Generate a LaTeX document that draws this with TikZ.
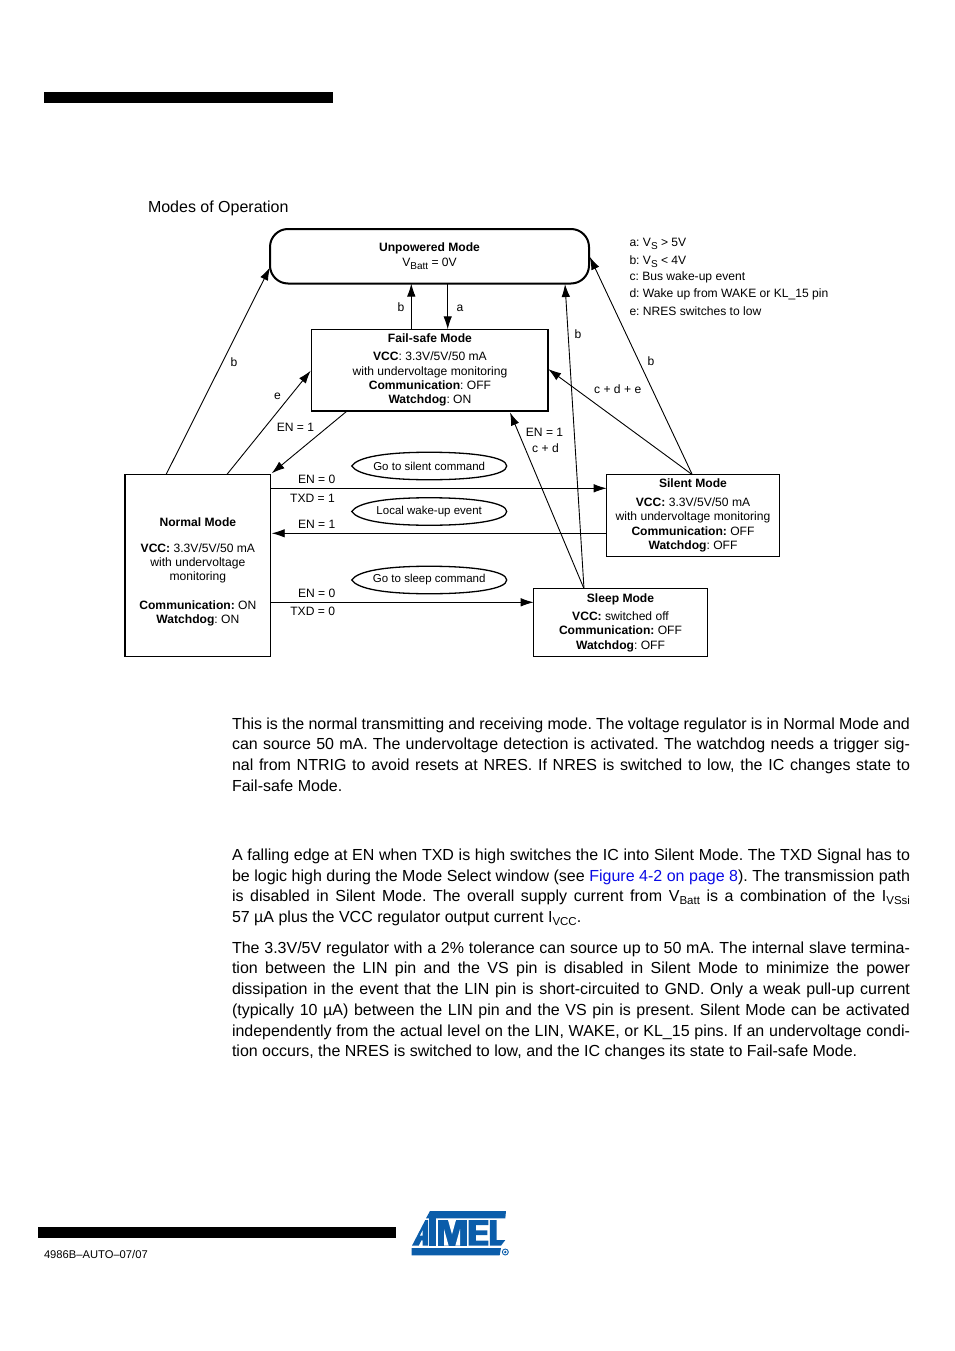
\documentclass[tikz,border=0pt]{standalone}
\usepackage{fontspec}
\setmainfont{Liberation Sans}
\usetikzlibrary{arrows.meta}
\frenchspacing
\definecolor{atmelblue}{HTML}{0B5DAA}
\definecolor{linkblue}{HTML}{0A0AE6}
\newcommand{\dsub}[1]{\raisebox{-3.2pt}{\fontsize{10}{10}\selectfont #1}}
\newcommand{\bsub}[1]{\raisebox{-3.2pt}{\fontsize{11.5}{11.5}\selectfont #1}}
\newcommand{\jline}[3]{\node[bodyline] (#1) at (232,#2) {\hbox to 678pt{#3}};}
\newcommand{\nline}[3]{\node[bodyline] (#1) at (232,#2) {#3};}
\newcommand{\lens}[1]{\draw[line width=1.3pt] (#1.west)
  .. controls ([xshift=6pt,yshift=9pt]#1.west) and ([xshift=-44pt]#1.north) .. (#1.north)
  .. controls ([xshift=44pt]#1.north) and ([xshift=0pt,yshift=9pt]#1.east) .. (#1.east)
  .. controls ([xshift=0pt,yshift=-9pt]#1.east) and ([xshift=44pt]#1.south) .. (#1.south)
  .. controls ([xshift=-44pt]#1.south) and ([xshift=6pt,yshift=-9pt]#1.west) .. (#1.west) -- cycle;}
\tikzset{
  every node/.style={inner sep=0pt,outer sep=0pt},
  dia/.style={font=\fontsize{12.1}{14.3}\selectfont},
  modebox/.style={dia,draw,line width=1.5pt,anchor=north west,align=center},
  wake/.style={font=\fontsize{11.5}{14}\selectfont,minimum width=155pt,minimum height=27.5pt},
  lab/.style={dia,anchor=base},
  legend/.style={dia,anchor=base west},
  bodyline/.style={font=\fontsize{16}{20}\selectfont,anchor=base west},
  conn/.style={line width=0.9pt,-{Latex[length=13pt,width=8.5pt]}}
}
\begin{document}
\begin{tikzpicture}[x=1pt,y=-1pt]
\useasboundingbox (0,0) rectangle (954,1351);
\fill[white] (0,0) rectangle (954,1351);
\fill[black] (44,92) rectangle (333,103);
\fill[black] (38,1227) rectangle (396,1238);
\node[font=\fontsize{16}{20}\selectfont,anchor=base west] (title) at (148,212.5) {Modes of Operation};

% mode boxes
\node[modebox,line width=2pt,rounded corners=18pt,minimum width=319pt,minimum height=54.5pt] (unpowered) at (270,229)
  {\textbf{Unpowered Mode}\\V\dsub{Batt} = 0V};
\node[modebox,minimum width=236.5pt,minimum height=81.5pt] (failsafe) at (311.7,329.3)
  {\textbf{Fail-safe Mode}\\[4.2pt]\textbf{VCC}: 3.3V/5V/50 mA\\with undervoltage monitoring\\\textbf{Communication}: OFF\\\textbf{Watchdog}: ON};
\node[modebox,minimum width=145.7pt,minimum height=181.6pt] (normal) at (125,474.7)
  {\mbox{}\\[7pt]\textbf{Normal Mode}\\\mbox{}\\[-2.6pt]\textbf{VCC:} 3.3V/5V/50 mA\\with undervoltage\\monitoring\\\mbox{}\\\textbf{Communication:} ON\\\textbf{Watchdog}: ON};
\node[modebox,minimum width=172.6pt,minimum height=81.6pt] (silent) at (606.7,474.7)
  {\textbf{Silent Mode}\\[4.2pt]\textbf{VCC:} 3.3V/5V/50 mA\\with undervoltage monitoring\\\textbf{Communication:} OFF\\\textbf{Watchdog}: OFF};
\node[modebox,minimum width=173.6pt,minimum height=67.6pt] (sleep) at (533.7,588.7)
  {\textbf{Sleep Mode}\\[4.2pt]\textbf{VCC:} switched off\\\textbf{Communication:} OFF\\\textbf{Watchdog}: OFF};

% events
\node[wake] (silentcmd) at (429.2,466) {Go to silent command};
\node[wake] (localwake) at (429.2,511.5) {Local wake-up event};
\node[wake] (sleepcmd) at (429.2,580) {Go to sleep command};
\lens{silentcmd}
\lens{localwake}
\lens{sleepcmd}

% connectors
\draw[conn] ([xshift=41pt]normal.north west) -- ([yshift=-38.3pt]unpowered.north west);
\draw[conn] ([xshift=101.7pt]normal.north west) -- ([yshift=-41.4pt,xshift=-1pt]failsafe.north west);
\draw[conn] ([xshift=35.6pt]failsafe.south west) -- ([xshift=1pt,yshift=1.4pt]normal.north east);
\draw[conn] ([xshift=99.6pt]failsafe.north west) -- ([xshift=141.3pt]unpowered.south west);
\draw[conn] ([xshift=177.7pt]unpowered.south west) -- ([xshift=136pt]failsafe.north west);
\draw[conn] ([xshift=50.3pt]sleep.north west) -- ([xshift=295pt,yshift=-0.5pt]unpowered.south west);
\draw[conn] ([xshift=50.3pt]sleep.north west) -- ([xshift=198.3pt,yshift=-1.6pt]failsafe.south west);
\draw[conn] ([xshift=85.6pt]silent.north west) -- ([yshift=-39.7pt]failsafe.north east);
\draw[conn] ([xshift=85.6pt]silent.north west) -- ([xshift=0.7pt,yshift=-27.7pt]unpowered.north east);
\draw[conn] ([yshift=-13.6pt]normal.north east) -- ([yshift=-13.6pt]silent.north west);
\draw[conn] ([yshift=-58.6pt]silent.north west) -- ([xshift=1pt,yshift=-58.6pt]normal.north east);
\draw[conn] ([yshift=-127.6pt]normal.north east) -- ([yshift=-13.6pt]sleep.north west);

% connector labels
\node[lab] (lb1) at (234,366.5) {b};
\node[lab] (le) at (277.5,399.5) {e};
\node[lab] (len1) at (295.5,431.5) {EN = 1};
\node[lab] (lb2) at (401,311.5) {b};
\node[lab] (la) at (460,311.5) {a};
\node[lab] (lb3) at (578,338.5) {b};
\node[lab] (lb4) at (651,365.5) {b};
\node[lab] (lcde) at (617.7,393) {c + d + e};
\node[lab] (len2) at (544.5,436.5) {EN = 1};
\node[lab] (lcd) at (545.5,452.5) {c + d};
\node[lab] (len3) at (316.7,483.5) {EN = 0};
\node[lab] (ltxd1) at (312.5,502.5) {TXD = 1};
\node[lab] (len4) at (316.7,528.5) {EN = 1};
\node[lab] (len5) at (316.7,597.5) {EN = 0};
\node[lab] (ltxd0) at (312.7,615.5) {TXD = 0};

% legend
\node[legend] (lega) at (629.5,246) {a: V\dsub{S} > 5V};
\node[legend] (legb) at (629.5,264) {b: V\dsub{S} < 4V};
\node[legend] (legc) at (629.5,280) {c: Bus wake-up event};
\node[legend] (legd) at (629.5,297.5) {d: Wake up from WAKE or KL\_15 pin};
\node[legend] (lege) at (629.5,315) {e: NRES switches to low};

% body text
\jline{p1a}{729}{This is the normal transmitting and receiving mode. The voltage regulator is in Normal Mode and}
\jline{p1b}{749.7}{can source 50 mA. The undervoltage detection is activated. The watchdog needs a trigger sig-}
\jline{p1c}{770.5}{nal from NTRIG to avoid resets at NRES. If NRES is switched to low, the IC changes state to}
\nline{p1d}{791}{Fail-safe Mode.}
\jline{p2a}{860}{A falling edge at EN when TXD is high switches the IC into Silent Mode. The TXD Signal has to}
\jline{p2b}{881}{be logic high during the Mode Select window (see {\color{linkblue}Figure 4-2 on page 8}). The transmission path}
\jline{p2c}{901.7}{is disabled in Silent Mode. The overall supply current from V\bsub{Batt} is a combination of the I\bsub{VSsi}}
\nline{p2d}{922.5}{57 µA plus the VCC regulator output current I\bsub{VCC}.}
\jline{p3a}{953}{The 3.3V/5V regulator with a 2\% tolerance can source up to 50 mA. The internal slave termina-}
\jline{p3b}{973.8}{tion between the LIN pin and the VS pin is disabled in Silent Mode to minimize the power}
\jline{p3c}{994.5}{dissipation in the event that the LIN pin is short-circuited to GND. Only a weak pull-up current}
\jline{p3d}{1015.2}{(typically 10 µA) between the LIN pin and the VS pin is present. Silent Mode can be activated}
\jline{p3e}{1036}{independently from the actual level on the LIN, WAKE, or KL\_15 pins. If an undervoltage condi-}
\nline{p3f}{1056.5}{tion occurs, the NRES is switched to low, and the IC changes its state to Fail-safe Mode.}

% footer
\node[anchor=base west,font=\fontsize{11.2}{13}\selectfont] (docid) at (44,1258) {4986B–AUTO–07/07};

% logo
\begin{scope}[shift={(400,1205)},x=0.3333pt,y=-0.3333pt]
  \fill[atmelblue] (90,18) -- (318,18) -- (316,40) -- (78,40) -- cycle;
  \fill[atmelblue] (36,122) -- (76,45) -- (84,45) -- (84,122) -- (68,122) -- (68,106) -- (64,106) -- (56,122) -- cycle;
  \fill[white] (60,92) -- (68,76) -- (68,92) -- cycle;
  \fill[atmelblue] (88,40) rectangle (107,122);
  \fill[atmelblue] (113,45) rectangle (200,122);
  \fill[white] (144,45) -- (168,45) -- (156,88) -- cycle;
  \fill[white] (132,72) -- (146,122) -- (132,122) -- cycle;
  \fill[white] (180,72) -- (180,122) -- (166,122) -- cycle;
  \fill[atmelblue] (206,45) -- (265,45) -- (265,60) -- (228,60) -- (228,76) -- (262,76) -- (262,90) -- (228,90) -- (228,107) -- (265,107) -- (265,122) -- (206,122) -- cycle;
  \fill[atmelblue] (270,45) -- (290,45) -- (290,105) -- (316,105) -- (303,122) -- (270,122) -- cycle;
  \fill[atmelblue] (35,129) -- (303,129) -- (299,151) -- (35,151) -- cycle;
  \draw[atmelblue,line width=0.9pt] (316,141) circle (9);
  \fill[atmelblue] (316,141) circle (4);
\end{scope}
\end{tikzpicture}
\end{document}
